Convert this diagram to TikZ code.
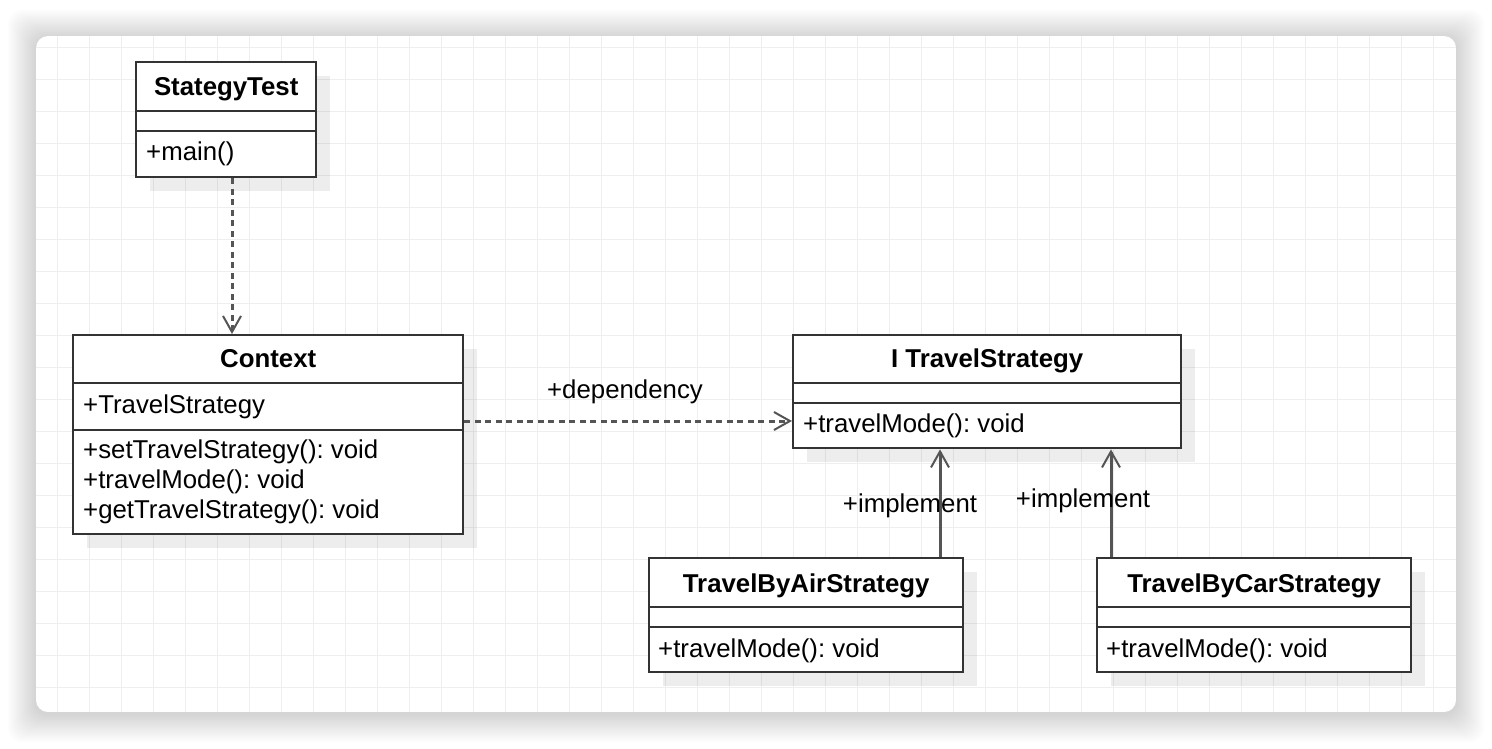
\documentclass[tikz,border=0pt]{standalone}
\usepackage{fontspec}
\setmainfont{Liberation Sans}
\usetikzlibrary{arrows.meta,shadows}
\definecolor{linec}{HTML}{333333}
\definecolor{arrc}{HTML}{555555}
\definecolor{gridc}{HTML}{EEEEEE}
\frenchspacing
\begin{document}
\begin{tikzpicture}[x=1pt,y=-1pt,
  classbox/.style={draw=linec, line width=2.4pt, fill=white, anchor=north west, inner sep=0pt,
    drop shadow={shadow xshift=14pt, shadow yshift=-14pt, fill=black, opacity=0.07}},
  divider/.style={draw=linec, line width=2.4pt},
  title/.style={font=\fontsize{25.8}{30}\selectfont\bfseries, anchor=base, inner sep=0pt},
  member/.style={font=\fontsize{25.8}{30}\selectfont, anchor=base west, inner sep=0pt},
  lbl/.style={font=\fontsize{25.8}{30}\selectfont, anchor=base, inner sep=0pt},
  dep/.style={draw=arrc, line width=3pt, dash pattern=on 6pt off 4.5pt,
    -{Straight Barb[length=16pt,width=18pt,line width=2pt]}},
  impl/.style={draw=arrc, line width=3pt,
    -{Straight Barb[length=16pt,width=18pt,line width=2pt]}}
]
\useasboundingbox (0,0) rectangle (1492,748);
\fill[white] (0,0) rectangle (1492,748);
% window shadow
\foreach \i in {1,...,14} {
  \fill[black, opacity=0.013, rounded corners=14pt] ({36-2*\i},{36-2*\i+2}) rectangle ({1456+2*\i},{712+2*\i+2});
}
% window with grid
\begin{scope}
  \clip[rounded corners=12pt] (36,36) rectangle (1456,712);
  \fill[white] (36,36) rectangle (1456,712);
  \foreach \x in {57,89,...,1450} \draw[gridc, line width=1pt] (\x,36) -- (\x,712);
  \foreach \y in {47,79,...,711} \draw[gridc, line width=1pt] (36,\y) -- (1456,\y);
\end{scope}

% StategyTest
\node[classbox, minimum width=180pt, minimum height=115pt] (st) at (135,61) {};
\draw[divider] ([yshift=-50pt]st.north west) -- ([yshift=-50pt]st.north east);
\draw[divider] ([yshift=-70pt]st.north west) -- ([yshift=-70pt]st.north east);
\node[title] (stT) at ([yshift=-34pt]st.north) {StategyTest};
\node[member] (stM) at ([xshift=11pt,yshift=-99pt]st.north west) {+main()};

% Context
\node[classbox, minimum width=390pt, minimum height=199pt] (ctx) at (72,334) {};
\draw[divider] ([yshift=-49pt]ctx.north west) -- ([yshift=-49pt]ctx.north east);
\draw[divider] ([yshift=-96pt]ctx.north west) -- ([yshift=-96pt]ctx.north east);
\node[title] (ctxT) at ([yshift=-33pt]ctx.north) {Context};
\node[member] (ctxA) at ([xshift=11pt,yshift=-79pt]ctx.north west) {+TravelStrategy};
\node[member] (ctxM1) at ([xshift=11pt,yshift=-124pt]ctx.north west) {+setTravelStrategy(): void};
\node[member] (ctxM2) at ([xshift=11pt,yshift=-154pt]ctx.north west) {+travelMode(): void};
\node[member] (ctxM3) at ([xshift=11pt,yshift=-184pt]ctx.north west) {+getTravelStrategy(): void};

% I TravelStrategy
\node[classbox, minimum width=388pt, minimum height=113pt] (its) at (792,334) {};
\draw[divider] ([yshift=-49pt]its.north west) -- ([yshift=-49pt]its.north east);
\draw[divider] ([yshift=-69pt]its.north west) -- ([yshift=-69pt]its.north east);
\node[title] (itsT) at ([yshift=-33pt]its.north) {I TravelStrategy};
\node[member] (itsM) at ([xshift=11pt,yshift=-98pt]its.north west) {+travelMode(): void};

% TravelByAirStrategy
\node[classbox, minimum width=314pt, minimum height=114pt] (air) at (648,557) {};
\draw[divider] ([yshift=-50pt]air.north west) -- ([yshift=-50pt]air.north east);
\draw[divider] ([yshift=-70pt]air.north west) -- ([yshift=-70pt]air.north east);
\node[title] (airT) at ([yshift=-35pt]air.north) {TravelByAirStrategy};
\node[member] (airM) at ([xshift=10pt,yshift=-100pt]air.north west) {+travelMode(): void};

% TravelByCarStrategy
\node[classbox, minimum width=314pt, minimum height=114pt] (car) at (1096,557) {};
\draw[divider] ([yshift=-50pt]car.north west) -- ([yshift=-50pt]car.north east);
\draw[divider] ([yshift=-70pt]car.north west) -- ([yshift=-70pt]car.north east);
\node[title] (carT) at ([yshift=-35pt]car.north) {TravelByCarStrategy};
\node[member] (carM) at ([xshift=10pt,yshift=-100pt]car.north west) {+travelMode(): void};

% connectors
\draw[dep] (st.south -| 232,0) -- (ctx.north -| 232,0);
\draw[dep] (ctx.east |- 0,421) -- (its.west |- 0,421);
\node[lbl] (depL) at (625,398) {+dependency};
\draw[impl] (air.north -| 940,0) -- (its.south -| 940,0);
\node[lbl] (impL1) at (910,512) {+implement};
\draw[impl] (car.north -| 1111,0) -- (its.south -| 1111,0);
\node[lbl] (impL2) at (1083,507) {+implement};
\end{tikzpicture}
\end{document}
